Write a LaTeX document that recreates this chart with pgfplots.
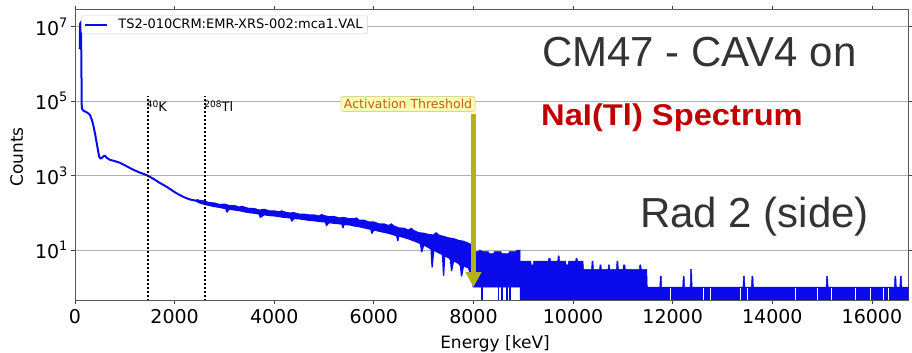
\documentclass[border=0pt]{standalone}
\usepackage{pgfplots}
\pgfplotsset{compat=1.18}
\usepackage{fontspec}
\setmainfont{DejaVu Sans}
\newfontfamily\arial{Liberation Sans}
\usetikzlibrary{arrows.meta}
\definecolor{specblue}{RGB}{10,10,235}
\definecolor{gridgray}{RGB}{176,176,176}
\definecolor{arrowolive}{RGB}{178,178,20}
\definecolor{annotext}{RGB}{190,95,25}
\definecolor{annofill}{RGB}{255,252,180}
\definecolor{annodraw}{RGB}{200,190,110}
\definecolor{titlegray}{RGB}{51,51,51}
\definecolor{nared}{RGB}{192,0,0}
\begin{document}
\begin{tikzpicture}
\useasboundingbox (0pt,0pt) rectangle (912pt,353pt);
\begin{axis}[
  at={(75pt,53pt)}, anchor=south west,
  scale only axis, width=833.3pt, height=290.5pt,
  xmin=0, xmax=16730, ymode=log, ymin=0.453, ymax=2.92e7,
  scaled x ticks=false,
  axis line style={black!65, line width=0.8pt},
  tick align=outside, major tick length=4pt,
  tick style={black!75, line width=0.8pt},
  xtick={0,2000,4000,6000,8000,10000,12000,14000,16000},
  xticklabels={0,2000,4000,6000,8000,10000,12000,14000,16000},
  ytick={10,1000,100000,10000000},
  yticklabels={10\raisebox{8pt}{\fontsize{13}{13}\selectfont 1},10\raisebox{8pt}{\fontsize{13}{13}\selectfont 3},10\raisebox{8pt}{\fontsize{13}{13}\selectfont 5},10\raisebox{8pt}{\fontsize{13}{13}\selectfont 7}},
  yminorticks=false,
  ticklabel style={font=\fontsize{19}{19}\selectfont},
  xticklabel style={yshift=-2pt},
  ymajorgrids, major grid style={gridgray, line width=0.7pt},
  legend style={at={(0.0078,0.979)}, anchor=north west, draw=gray!40, rounded corners=2pt,
    inner xsep=3pt, inner ysep=1.5pt, fill=white,
    font=\fontsize{13}{14}\selectfont},
  legend cell align=left,
  legend image code/.code={\draw[#1, line width=1.5pt] (0pt,0pt) -- (22pt,0pt); \path (30pt,0pt);},
]
% low-energy part of the spectrum
\addplot[specblue, line width=2pt] coordinates {
(95,2.5e6) (102,1.2e7) (110,1.25e7) (118,9e6) (124,4e6) (130,5e5) (136,6.5e4)
(160,5.7e4) (200,5.3e4) (250,4.9e4) (300,4.3e4) (340,3.1e4) (366,2.3e4) (400,1.4e4)
(435,7600) (465,4500) (487,3200) (510,2900) (536,2950) (570,3300) (602,3400) (640,3000)
(703,2650) (800,2450) (904,2200) (1000,1900) (1104,1600) (1200,1380) (1305,1200)
(1400,1080) (1472,980) (1520,900) (1600,780) (1700,640) (1841,500) (2000,360)
(2169,270) (2300,230) (2510,200) (2600,195)
};
\addlegendentry{TS2-010CRM:EMR-XRS-002:mca1.VAL}
% noisy band 2450-8000 keV (upper envelope, then lower envelope)
\addplot[forget plot, fill=specblue, draw=specblue, line width=1.4pt, line join=round] coordinates {
(2450,224) (2500,214) (2600,204) (2700,186) (2800,182) (2900,166) (3000,170) (3100,155)
(3200,155) (3300,141) (3350,148) (3400,141) (3500,129) (3600,129) (3700,117) (3800,123)
(3900,112) (4000,112) (4100,105) (4150,112) (4200,105) (4300,98) (4400,100) (4500,91)
(4600,91) (4700,87) (4800,87) (4900,81) (4950,89) (5000,83) (5100,78) (5200,79)
(5300,72) (5400,74) (5500,69) (5600,69) (5650,72) (5700,63) (5800,63) (5900,56)
(6000,56) (6100,50) (6200,50) (6300,45) (6350,50) (6400,44) (6500,39) (6600,38)
(6700,34) (6750,38) (6800,33) (6900,29) (7000,28) (7100,26) (7200,25) (7250,29)
(7300,25) (7400,23) (7500,21) (7600,20) (7700,18) (7800,17) (7900,15) (8000,13)
(8000,3.0) (7950,2.2) (7900,3.3) (7800,3.8) (7760,2.0) (7740,3.8) (7700,4.4) (7600,5.2)
(7560,2.8) (7540,5.5) (7500,6.3) (7420,6.9) (7400,2.1) (7380,7.6) (7300,8.5) (7200,10)
(7170,3.5) (7150,10.7) (7100,11.7) (7000,13.8) (6960,8.9) (6940,14.5) (6900,15.8)
(6800,17.8) (6700,20) (6600,21.9) (6500,24) (6480,17.8) (6460,24.5) (6400,25.7)
(6300,28.2) (6200,30.2) (6100,32.4) (6000,34.7) (5960,28.2) (5940,36.3) (5900,37.2)
(5800,39.8) (5700,42.7) (5600,44.7) (5500,47.9) (5400,49) (5380,39.8) (5360,50)
(5300,51.3) (5200,52.5) (5100,55) (5050,45.7) (5030,56.2) (5000,57.5) (4900,58.9)
(4800,61.7) (4700,63.1) (4600,66.1) (4500,69.2) (4400,70.8) (4350,60.3) (4330,72.4)
(4300,74.1) (4200,75.9) (4100,79.4) (4000,83.2) (3900,85.1) (3800,89.1) (3720,75.9)
(3700,93.3) (3600,97.7) (3500,102) (3400,107) (3300,115) (3200,120) (3100,126)
(3050,105) (3030,129) (3000,132) (2900,141) (2800,148) (2700,158) (2600,170)
(2500,186) (2450,200)
} -- cycle;
% high-energy part: integer counts, zeros drop to the bottom
\addplot[forget plot, fill=specblue, draw=specblue, line width=0.5pt] coordinates {
(7990,12) (8020,9) (8100,9) (8120,10) (8200,9) (8300,9) (8320,8) (8400,8) (8420,9)
(8550,9) (8570,8) (8700,8) (8720,9) (8850,9) (8870,10) (8936,10) (8936,5) (9150,5)
(9160,4) (9200,4) (9210,5) (9500,5) (9510,6) (9540,6) (9550,5) (9690,5) (9700,7)
(9720,7) (9730,5) (9850,5) (9860,4) (9900,4) (9910,5) (10050,5) (10060,6) (10080,6)
(10090,5) (10200,5) (10210,3) (10370,3) (10380,5) (10400,5) (10410,3) (10530,3)
(10540,4) (10560,4) (10570,3) (10700,3) (10710,4) (10730,4) (10740,3) (10870,3)
(10880,5) (10900,5) (10910,3) (11000,3) (11010,4) (11040,4) (11050,3) (11330,3)
(11340,4) (11360,4) (11370,3) (11480,3) (11490,1) (11740,1) (11750,2) (11770,2)
(11780,1) (12200,1) (12210,2) (12230,2) (12240,1) (12350,1) (12360,3) (12380,3)
(12390,1) (13410,1) (13420,2) (13440,2) (13450,1) (13580,1) (13590,2) (13610,2)
(13620,1) (15080,1) (15090,2) (15110,2) (15120,1) (16450,1) (16460,2) (16480,2)
(16490,1) (16560,1) (16570,2) (16590,2) (16600,1) (16730,1)
(16730,0.2) (8936,0.2) (8936,1) (7990,1)
} -- cycle;
% channels with zero counts between 8000 and 8936 keV
\addplot[forget plot, specblue, line width=1.6pt, unbounded coords=jump] coordinates {
(8166,0.2) (8166,1.2) (8166,nan)
(8500,0.2) (8500,1.2) (8500,nan)
(8568,0.2) (8568,1.2) (8568,nan)
(8668,0.2) (8668,1.2) (8668,nan)
(8735,0.2) (8735,1.2)
};
% channels without zeros above 11900 keV
\addplot[forget plot, white, line width=0.9pt, unbounded coords=jump] coordinates {
(11950,0.2) (11950,0.96) (11950,nan)
(12610,0.2) (12610,0.96) (12610,nan)
(12750,0.2) (12750,0.96) (12750,nan)
(13353,0.2) (13353,0.96) (13353,nan)
(13500,0.2) (13500,0.96) (13500,nan)
(14458,0.2) (14458,0.96) (14458,nan)
(14900,0.2) (14900,0.96) (14900,nan)
(15194,0.2) (15194,0.96) (15194,nan)
(15663,0.2) (15663,0.96) (15663,nan)
(15964,0.2) (15964,0.96) (15964,nan)
(16231,0.2) (16231,0.96) (16231,nan)
(16331,0.2) (16331,0.96)
};
% 40K and 208Tl lines
\addplot[forget plot, black, line width=1.8pt, dash pattern=on 1.8pt off 2.2pt] coordinates {(1460,0.2) (1460,1.4e5)};
\addplot[forget plot, black, line width=1.8pt, dash pattern=on 1.8pt off 2.2pt] coordinates {(2614,0.2) (2614,1.4e5)};
\node[anchor=base west, inner sep=0pt, font=\fontsize{13}{13}\selectfont] at (axis cs:1440,5.4e4) {\raisebox{3.5pt}{\fontsize{9}{9}\selectfont 40}K};
\node[anchor=base west, inner sep=0pt, font=\fontsize{13}{13}\selectfont] at (axis cs:2595,5.4e4) {\raisebox{3.5pt}{\fontsize{9}{9}\selectfont 208}Tl};
% activation threshold annotation
\draw[arrowolive, line width=4.5pt, -{Triangle[width=15pt,length=15pt]}] (axis cs:8000,4.6e4) -- (axis cs:8000,1.0);
\node[fill=annofill, draw=annodraw, rounded corners=2pt, text=annotext, font=\fontsize{12.5}{13}\selectfont, inner xsep=3pt, inner ysep=2.5pt] at (axis cs:6687,8.4e4) {Activation Threshold};
\end{axis}
\node[anchor=base west, inner sep=0pt, font=\arial\fontsize{42}{42}\selectfont, text=titlegray] at (542pt,286pt) {CM47 - CAV4 on};
\node[anchor=base west, inner sep=0pt, font=\arial\bfseries\fontsize{30}{30}\selectfont, text=nared] at (541pt,227pt) {\scalebox{1.09}[1]{NaI(Tl) Spectrum}};
\node[anchor=base west, inner sep=0pt, font=\arial\fontsize{42}{42}\selectfont, text=titlegray] at (640pt,125pt) {Rad 2 (side)};
\node[rotate=90, font=\fontsize{17}{17}\selectfont] at (16.7pt,196pt) {Counts};
\node[anchor=base, font=\fontsize{17}{17}\selectfont] at (495pt,5pt) {Energy [keV]};
\end{tikzpicture}
\end{document}
